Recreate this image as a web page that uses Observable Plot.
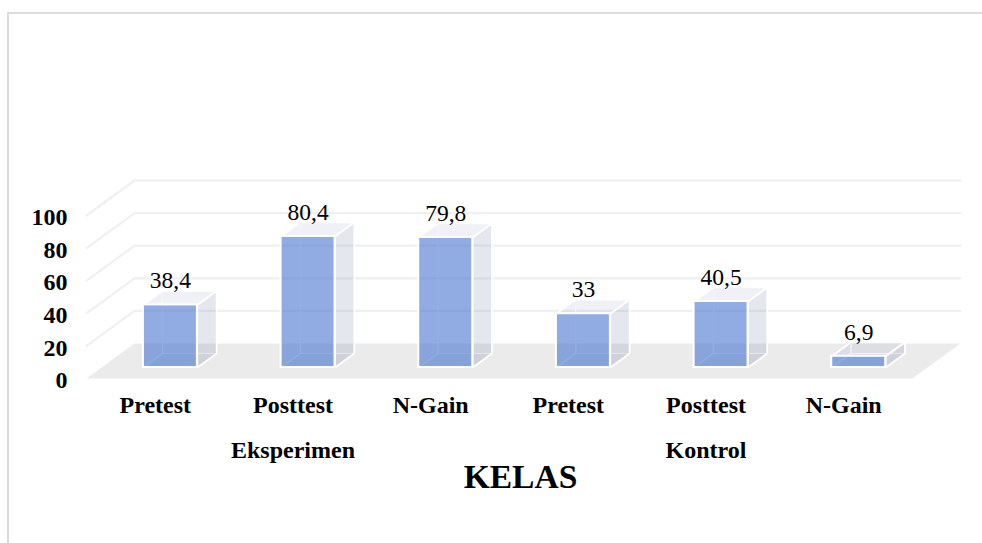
<!DOCTYPE html>
<html><head><meta charset="utf-8">
<script src="https://cdn.jsdelivr.net/npm/d3@7"></script>
<script src="https://cdn.jsdelivr.net/npm/@observablehq/plot@0.6"></script>
<style>
html,body{margin:0;padding:0;background:#fff;overflow:hidden}
#wrap{position:relative;width:982px;height:543px;overflow:hidden}
#frame{position:absolute;left:7px;top:12px;width:1000px;height:600px;border:2px solid #dcdcdc}
#wrap svg{position:absolute;left:0;top:0;background:transparent}
#wrap svg text{font-family:"Liberation Serif","Times New Roman",serif}
</style></head><body>
<div id="wrap"><div id="frame"></div></div>
<script>
const categories = ["Pretest","Posttest","N-Gain","Pretest","Posttest","N-Gain"];
const values = [38.4,80.4,79.8,33,40.5,6.9];
const valueLabels = ["38,4","80,4","79,8","33","40,5","6,9"];
const groups = ["Eksperimen","Kontrol"];
const groupSpans = [1.5,4.5];
const yTicks = [0,20,40,60,80,100];

// oblique projection: depth d in [0,1] shifts the category and value axes
const depthX = 0.3487, depthY = 21.47;
const barHalf = 0.196, dFront = 0.314, dBack = 0.714;
const P = (c,v,d) => ({x:c+d*depthX, y:v+d*depthY});
const poly = (pts) => [...pts, pts[0]];
const barGeom = values.map((v,i)=>({i,v,c:i+0.5,l:i+0.5-barHalf,r:i+0.5+barHalf}));
const faces = (fn) => barGeom.flatMap(b => fn(b).map(p => ({...p, id:b.i})));
const backFace = faces(b=>poly([P(b.l,0,dBack),P(b.r,0,dBack),P(b.r,b.v,dBack),P(b.l,b.v,dBack)]));
const leftFace = faces(b=>poly([P(b.l,0,dFront),P(b.l,0,dBack),P(b.l,b.v,dBack),P(b.l,b.v,dFront)]));
const bottomFace = faces(b=>poly([P(b.l,0,dFront),P(b.r,0,dFront),P(b.r,0,dBack),P(b.l,0,dBack)]));
const rightFace = faces(b=>poly([P(b.r,0,dFront),P(b.r,0,dBack),P(b.r,b.v,dBack),P(b.r,b.v,dFront)]));
const topFace = faces(b=>poly([P(b.l,b.v,dFront),P(b.r,b.v,dFront),P(b.r,b.v,dBack),P(b.l,b.v,dBack)]));
const floor = poly([P(0,0,0),P(6,0,0),P(6,0,1),P(0,0,1)]);
const grid = yTicks.slice(1).flatMap(t=>[
  {...P(0,t,0),id:t},{...P(0,t,1),id:t},{...P(6,t,1),id:t}
]);
const line = (data,opts)=>Plot.line(data,{x:"x",y:"y",z:"id",curve:"linear",...opts});
const labels = barGeom.map(b=>({x:P(b.c,b.v,dFront).x,y:P(b.c,b.v,dBack).y,t:valueLabels[b.i]}));
const font = "Liberation Serif";

const chart = Plot.plot({
  width:982,height:543,
  marginLeft:86,marginRight:70,marginTop:215,marginBottom:165,
  style:{color:"#000",background:"transparent",overflow:"visible"},
  x:{type:"linear",domain:[0,6]},
  y:{type:"linear",domain:[0,100]},
  marks:[
    Plot.line(floor,{x:"x",y:"y",fill:"#ebebeb",stroke:"none"}),
    line(grid,{stroke:"#f0f0f0",strokeWidth:2.2}),
    line(backFace,{fill:"#5a6e9e",fillOpacity:0.03,stroke:"#fff",strokeOpacity:0.7,strokeWidth:1.2}),
    line(leftFace,{fill:"#5a6e9e",fillOpacity:0.03,stroke:"#fff",strokeOpacity:0.7,strokeWidth:1.2}),
    line(bottomFace,{fill:"#5a6e9e",fillOpacity:0.08,stroke:"#fff",strokeOpacity:0.7,strokeWidth:1.2}),
    line(rightFace,{fill:"#5a6e9e",fillOpacity:0.13,stroke:"#fff",strokeWidth:1.6}),
    line(topFace,{fill:"#5a6e9e",fillOpacity:0.06,stroke:"#fff",strokeWidth:1.6}),
    Plot.rect(barGeom,{
      x1:d=>P(d.l,0,dFront).x,x2:d=>P(d.r,0,dFront).x,
      y1:d=>P(0,0,dFront).y,y2:d=>P(0,d.v,dFront).y,
      fill:"#4a78d2",fillOpacity:0.6,stroke:"#fff",strokeWidth:2
    }),
    Plot.text(labels,{x:"x",y:"y",text:"t",dy:-10,fontSize:23.5,fill:"#000",lineAnchor:"middle",fontFamily:font}),
    Plot.axisY({ticks:yTicks,tickSize:0,tickPadding:19,fontSize:24,fontWeight:"bold",dy:2,label:null,tickFormat:d=>String(d),fontFamily:font}),
    Plot.axisX({ticks:categories.map((_,i)=>i+0.5),tickFormat:d=>categories[d-0.5],tickSize:0,tickPadding:17,fontSize:24,fontWeight:"bold",label:null,fontFamily:font}),
    Plot.text(groups,{x:(d,i)=>groupSpans[i],y:()=>0,text:d=>d,dy:72,fontSize:24,fontWeight:"bold",fill:"#000",lineAnchor:"middle",fontFamily:font}),
    Plot.text(["KELAS"],{x:()=>3,y:()=>0,text:d=>d,dx:21,dy:99,fontSize:33.5,fontWeight:"bold",fill:"#000",lineAnchor:"middle",fontFamily:font})
  ]
});
document.getElementById("wrap").appendChild(chart);
</script>
</body></html>
